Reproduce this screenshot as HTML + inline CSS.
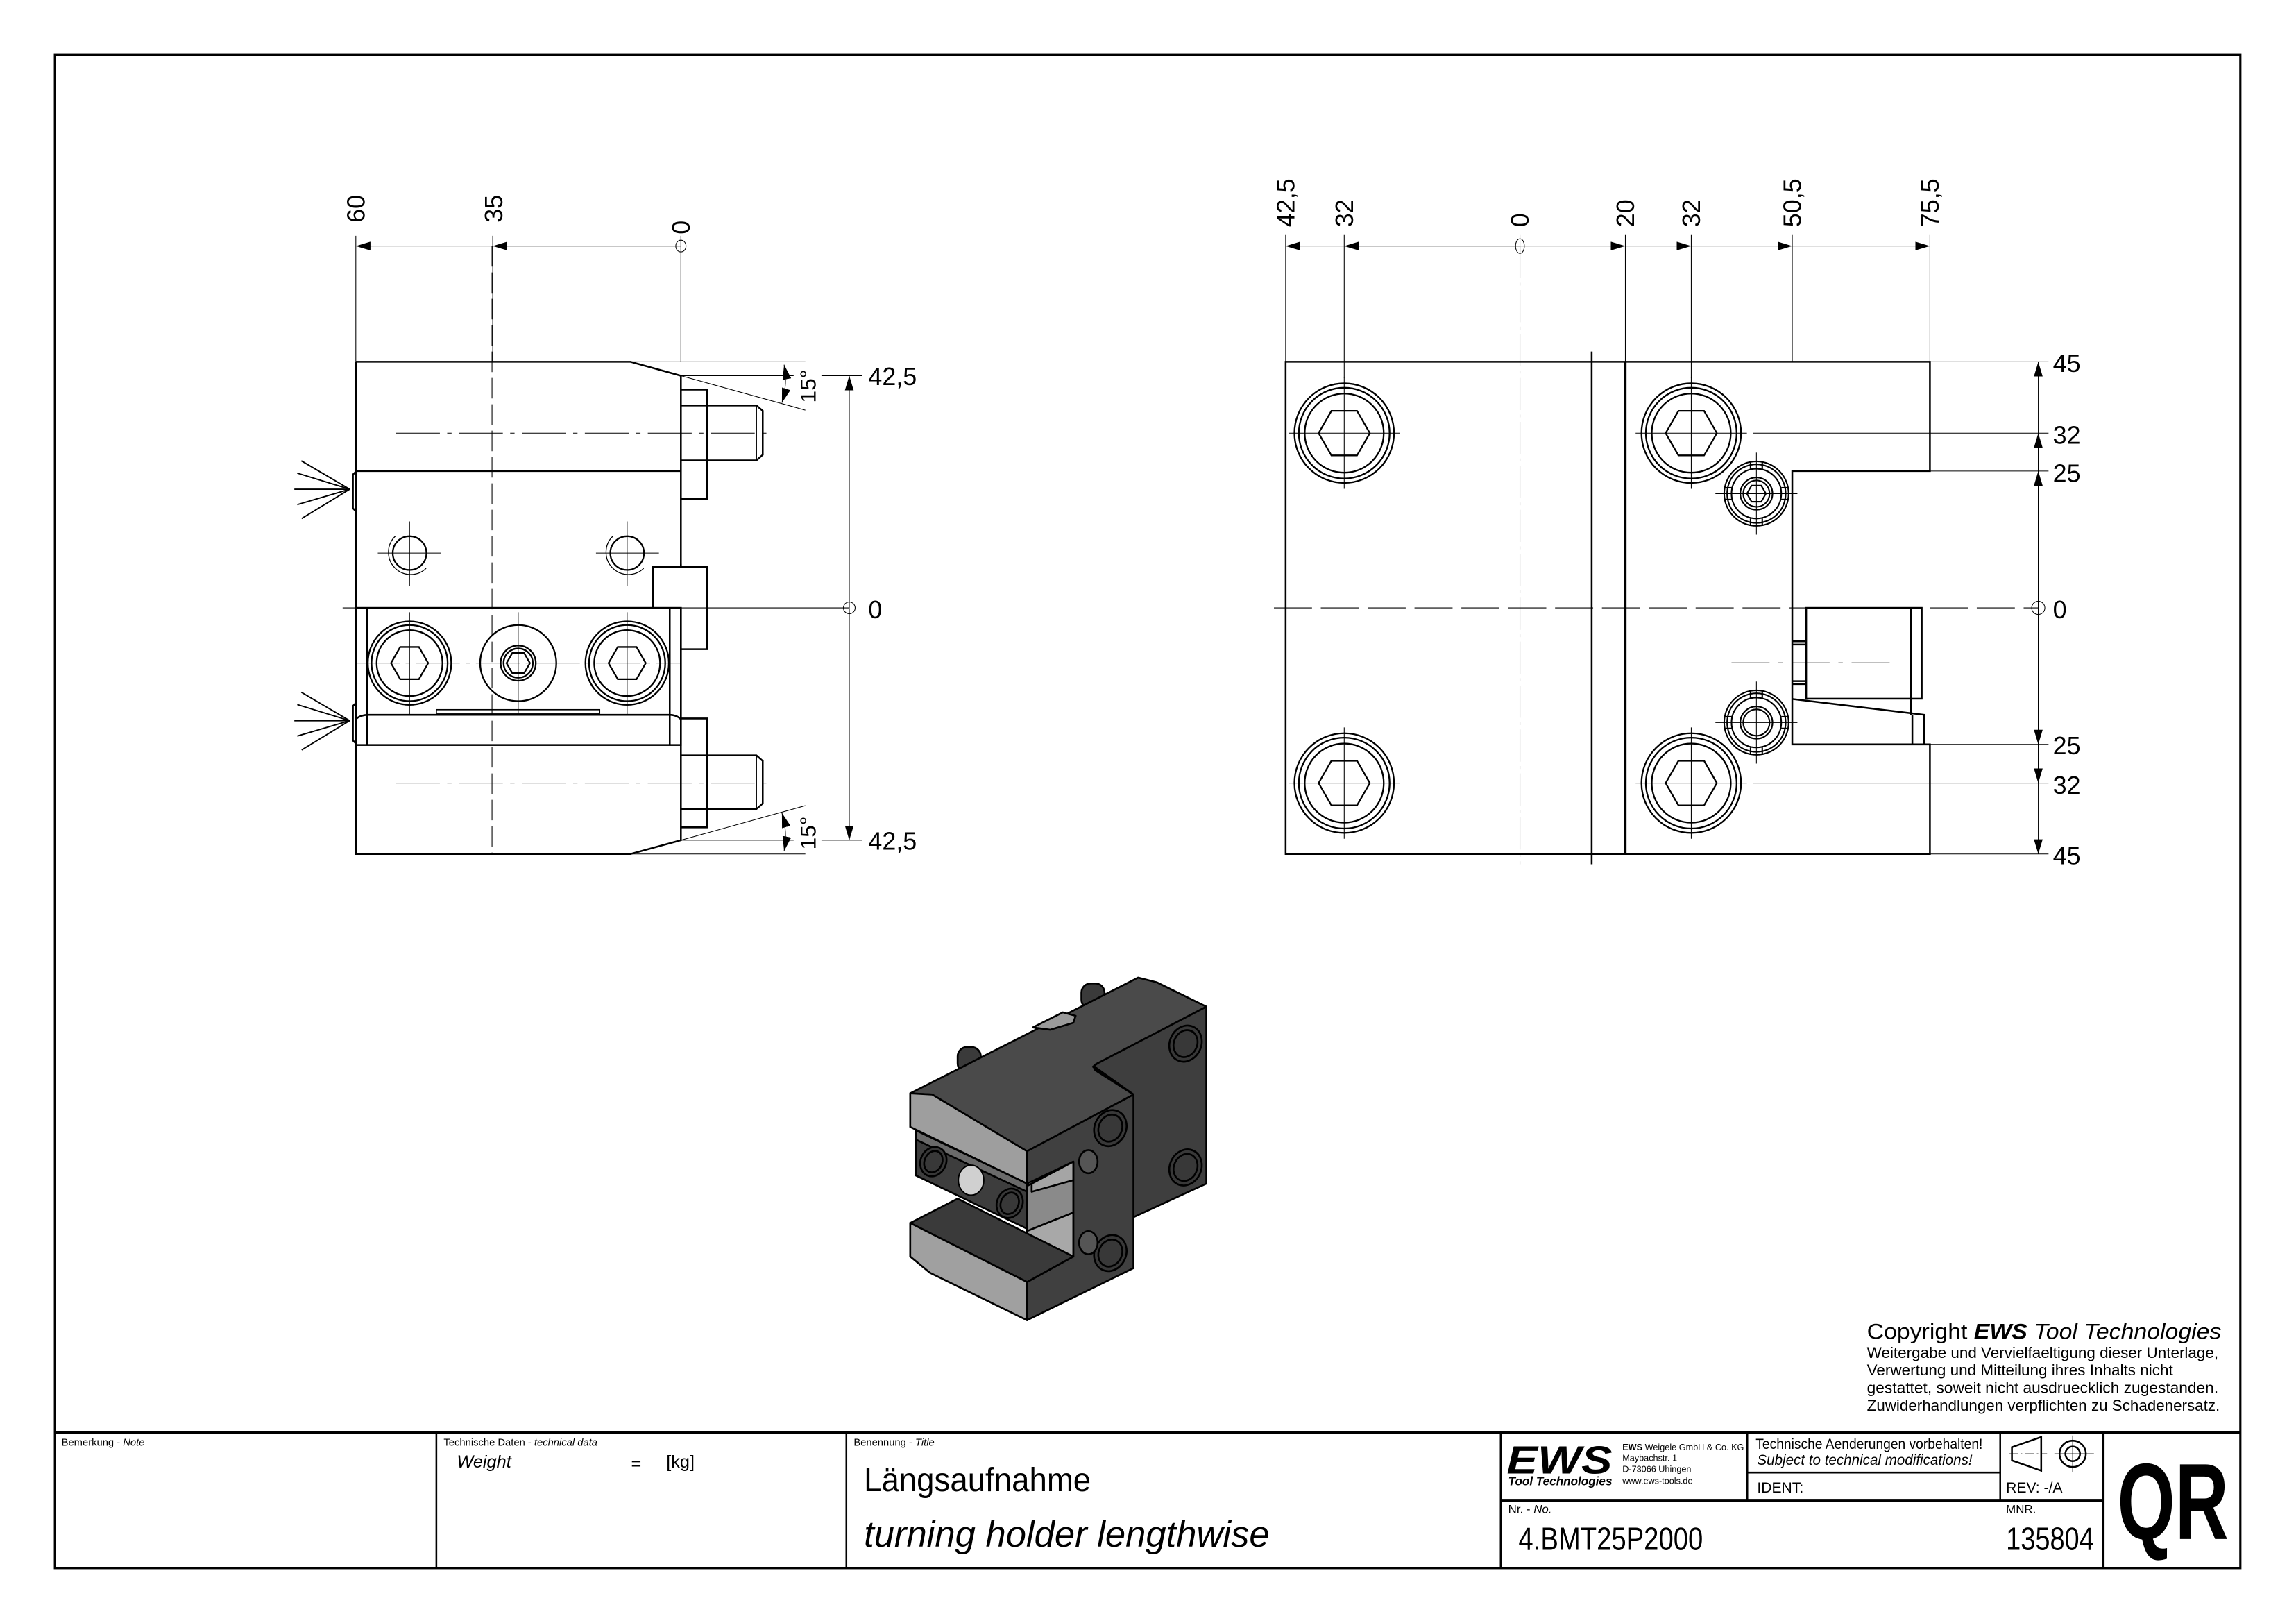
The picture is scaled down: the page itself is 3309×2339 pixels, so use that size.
<!DOCTYPE html>
<html><head><meta charset="utf-8">
<style>
html,body{margin:0;padding:0;background:#fff;}
svg{display:block;}
.n{font-family:"Liberation Sans Narrow","Liberation Sans",sans-serif;}
.s{font-family:"Liberation Sans",sans-serif;}
</style></head>
<body>
<svg width="3309" height="2339" viewBox="0 0 1568 1108" preserveAspectRatio="none" xmlns="http://www.w3.org/2000/svg">
<defs>
<marker id="a" viewBox="0 0 10 6" refX="10" refY="3" markerWidth="10" markerHeight="6" markerUnits="userSpaceOnUse" orient="auto-start-reverse">
<path d="M0,0 L10,3 L0,6 z" fill="#000"/></marker>
<g id="bigscrew" fill="none" stroke="#000">
<circle r="34" stroke-width="1.1"/><circle r="31" stroke-width="1.1"/><circle r="27" stroke-width="1.1"/>
<polygon points="-17.5,0 -8.75,-15.2 8.75,-15.2 17.5,0 8.75,15.2 -8.75,15.2" stroke-width="1.1"/>
<line x1="-38" y1="0" x2="38" y2="0" stroke-width="0.5"/><line x1="0" y1="-38" x2="0" y2="38" stroke-width="0.5"/>
</g>
<g id="smallscrew" fill="none" stroke="#000" stroke-width="1">
<circle r="22"/><circle r="20"/><circle r="17"/><circle r="11"/><circle r="9"/>
<line x1="-4" y1="-22" x2="-4" y2="-17"/><line x1="4" y1="-22" x2="4" y2="-17"/>
<line x1="-4" y1="22" x2="-4" y2="17"/><line x1="4" y1="22" x2="4" y2="17"/>
<line x1="-22" y1="-4" x2="-17" y2="-4"/><line x1="-22" y1="4" x2="-17" y2="4"/>
<line x1="22" y1="-4" x2="17" y2="-4"/><line x1="22" y1="4" x2="17" y2="4"/>
<line x1="-28" y1="0" x2="28" y2="0" stroke-width="0.5"/><line x1="0" y1="-28" x2="0" y2="28" stroke-width="0.5"/>
</g>
</defs>

<!-- frame -->
<rect x="37.5" y="37.5" width="1492.5" height="1033" fill="none" stroke="#000" stroke-width="1.5"/>
<line x1="37.5" y1="978" x2="1530" y2="978" stroke="#000" stroke-width="1.5"/>

<!-- ================= LEFT VIEW ================= -->
<g fill="none" stroke="#000" stroke-width="1.2">
<path d="M243,247 L430.6,247 L465,256.5 L465,387 L446,387 L446,415"/>
<path d="M243,247 L243,583 L430.6,583 L465,573.6 L465,508.6"/>
<line x1="243" y1="321.6" x2="465" y2="321.6"/>
<path d="M465,266 L482.8,266 L482.8,340.5 L465,340.5"/>
<path d="M465,276.8 L516.6,276.8 L520.9,280.5 L520.9,310.5 L516.6,314.3 L465,314.3"/>
<line x1="516.6" y1="276.8" x2="516.6" y2="314.3" stroke-width="0.7"/>
<path d="M448,387 L465,387 L465,385"/>
<path d="M465,387 L482.8,387 L482.8,443.2 L465,443.2"/>
<path d="M465,490.5 L482.8,490.5 L482.8,564.8 L465,564.8"/>
<path d="M465,515.7 L516.6,515.7 L520.9,519.5 L520.9,548.5 L516.6,552.3 L465,552.3"/>
<line x1="516.6" y1="515.7" x2="516.6" y2="552.3" stroke-width="0.7"/>
<rect x="243" y="415" width="222" height="93.6"/>
<line x1="250.6" y1="415" x2="250.6" y2="508.6"/>
<line x1="457.4" y1="415" x2="457.4" y2="508.6"/>
<path d="M243,491 Q246,488 252,488 L457,488 Q462,488 465,491"/>
<rect x="298" y="484.5" width="111.5" height="2.5" stroke-width="0.8"/>
<line x1="465" y1="415" x2="465" y2="508.6"/>
<path d="M243,322 L241,324 L241,347 L243,349"/>
<path d="M243,480 L241,482 L241,505.5 L243,507.5"/>
</g>
<g stroke="#000" stroke-width="0.9">
<line x1="238.8" y1="334" x2="205.8" y2="314.6"/><line x1="238.8" y1="334" x2="203" y2="323"/><line x1="238.8" y1="334" x2="201" y2="334"/><line x1="238.8" y1="334" x2="203" y2="344.5"/><line x1="238.8" y1="334" x2="206" y2="354"/>
<line x1="238.8" y1="492" x2="205.8" y2="472.6"/><line x1="238.8" y1="492" x2="203" y2="481"/><line x1="238.8" y1="492" x2="201" y2="492"/><line x1="238.8" y1="492" x2="203" y2="502.5"/><line x1="238.8" y1="492" x2="206" y2="512"/>
</g>
<g fill="none" stroke="#000" stroke-width="1.1">
<circle cx="279.7" cy="377.6" r="11.5"/><path d="M270,366 A13,13 0 1 0 291,388" stroke-width="0.6"/>
<circle cx="428.3" cy="377.6" r="11.5"/><path d="M418.6,366 A13,13 0 1 0 439.6,388" stroke-width="0.6"/>
<circle cx="279.7" cy="452.7" r="28.5"/><circle cx="279.7" cy="452.7" r="26"/><circle cx="279.7" cy="452.7" r="22.5"/>
<circle cx="428.3" cy="452.7" r="28.5"/><circle cx="428.3" cy="452.7" r="26"/><circle cx="428.3" cy="452.7" r="22.5"/>
<circle cx="353.9" cy="452.7" r="26"/><circle cx="353.9" cy="452.7" r="12"/><circle cx="353.9" cy="452.7" r="10"/>
<polygon points="267,452.7 273.3,441.7 286.1,441.7 292.4,452.7 286.1,463.7 273.3,463.7"/>
<polygon points="415.6,452.7 421.9,441.7 434.7,441.7 441,452.7 434.7,463.7 421.9,463.7"/>
<polygon points="345.9,452.7 349.9,445.8 357.9,445.8 361.9,452.7 357.9,459.6 349.9,459.6"/>
</g>
<g stroke="#000" stroke-width="0.5" fill="none">
<line x1="258" y1="377.6" x2="301" y2="377.6"/><line x1="279.7" y1="356" x2="279.7" y2="400"/>
<line x1="407" y1="377.6" x2="450" y2="377.6"/><line x1="428.3" y1="356" x2="428.3" y2="400"/>
<line x1="279.7" y1="418" x2="279.7" y2="488"/><line x1="353.9" y1="418" x2="353.9" y2="488"/><line x1="428.3" y1="418" x2="428.3" y2="488"/>
<line x1="243" y1="452.7" x2="465" y2="452.7" stroke-dasharray="30,4,3,4"/>
<line x1="270.4" y1="295.7" x2="526.5" y2="295.7" stroke-dasharray="30,5,3,5"/>
<line x1="270.4" y1="534.6" x2="526.5" y2="534.6" stroke-dasharray="30,5,3,5"/>
<line x1="336" y1="168" x2="336" y2="583" stroke-dasharray="14,4"/>
<line x1="234" y1="415" x2="580" y2="415"/>
<line x1="243" y1="161" x2="243" y2="247"/>
<line x1="336.5" y1="161" x2="336.5" y2="247"/>
<line x1="465" y1="161" x2="465" y2="247"/>
<line x1="465" y1="168" x2="243" y2="168" marker-end="url(#a)"/>
<line x1="465" y1="168" x2="336.5" y2="168" marker-end="url(#a)"/>
<ellipse cx="465" cy="168" rx="3.5" ry="4"/>
<line x1="580" y1="415" x2="580" y2="256.5" marker-end="url(#a)"/>
<line x1="580" y1="415" x2="580" y2="573.6" marker-end="url(#a)"/>
<ellipse cx="580" cy="415" rx="4" ry="4"/>
<line x1="561" y1="256.5" x2="589" y2="256.5"/>
<line x1="561" y1="573.6" x2="589" y2="573.6"/>
<line x1="430.6" y1="247" x2="550" y2="247"/>
<line x1="465" y1="256.5" x2="542" y2="256.5"/>
<line x1="465" y1="256.5" x2="550" y2="280"/>
<path d="M535.5,249 Q538,262 534,275" marker-start="url(#a)" marker-end="url(#a)"/>
<line x1="430.6" y1="583" x2="550" y2="583"/>
<line x1="465" y1="573.6" x2="542" y2="573.6"/>
<line x1="465" y1="573.6" x2="550" y2="550"/>
<path d="M535.5,581 Q538,568 534,555" marker-start="url(#a)" marker-end="url(#a)"/>
</g>
<g class="n" font-size="17" fill="#000">
<text transform="translate(249,152) rotate(-90)">60</text>
<text transform="translate(343,152) rotate(-90)">35</text>
<text transform="translate(471,160) rotate(-90)">0</text>
<text x="593" y="263">42,5</text>
<text x="593" y="422">0</text>
<text x="593" y="580">42,5</text>
<text transform="translate(557,275) rotate(-90)" font-size="15">15°</text>
<text transform="translate(557,580) rotate(-90)" font-size="15">15°</text>
</g>

<!-- ================= RIGHT VIEW ================= -->
<g fill="none" stroke="#000" stroke-width="1.2">
<path d="M878,247 L1318,247 L1318,321.6 L1224,321.6 L1224,508.2 L1318,508.2 L1318,583 L878,583 Z"/>
<line x1="1087" y1="240" x2="1087" y2="590"/>
<line x1="1110" y1="247" x2="1110" y2="583" stroke-width="1.6"/>
<rect x="1233.5" y="415" width="78.9" height="62"/>
<line x1="1305" y1="415" x2="1305" y2="488"/>
<path d="M1224,477.2 L1314,488 L1314,508.2"/>
<line x1="1306" y1="488" x2="1306" y2="508.2"/>
<line x1="1224" y1="437.8" x2="1233.5" y2="437.8"/><line x1="1224" y1="440" x2="1233.5" y2="440"/>
<line x1="1224" y1="465" x2="1233.5" y2="465"/><line x1="1224" y1="467" x2="1233.5" y2="467"/>
</g>
<use href="#bigscrew" x="918" y="295.7"/>
<use href="#bigscrew" x="918" y="534.6"/>
<use href="#bigscrew" x="1155" y="295.7"/>
<use href="#bigscrew" x="1155" y="534.6"/>
<use href="#smallscrew" x="1199.5" y="337"/>
<use href="#smallscrew" x="1199.5" y="493.3"/>
<g fill="none" stroke="#000" stroke-width="1">
<polygon points="1193,337 1196.2,331.5 1202.8,331.5 1206,337 1202.8,342.5 1196.2,342.5"/>
</g>
<g stroke="#000" stroke-width="0.5" fill="none">
<line x1="870" y1="415" x2="1392" y2="415" stroke-dasharray="26,6"/>
<line x1="1038" y1="168" x2="1038" y2="590" stroke-dasharray="22,3,2,3"/>
<line x1="1182.5" y1="452.5" x2="1292" y2="452.5" stroke-dasharray="26,6,3,6"/>
<line x1="878" y1="160" x2="878" y2="247"/>
<line x1="918" y1="160" x2="918" y2="258"/>
<line x1="1038" y1="160" x2="1038" y2="172"/>
<line x1="1110" y1="160" x2="1110" y2="247"/>
<line x1="1155" y1="160" x2="1155" y2="258"/>
<line x1="1224" y1="160" x2="1224" y2="247"/>
<line x1="1318" y1="160" x2="1318" y2="247"/>
<line x1="1038" y1="168" x2="878" y2="168" marker-end="url(#a)"/>
<line x1="1038" y1="168" x2="918" y2="168" marker-end="url(#a)"/>
<line x1="1038" y1="168" x2="1110" y2="168" marker-end="url(#a)"/>
<line x1="1110" y1="168" x2="1155" y2="168" marker-end="url(#a)"/>
<line x1="1155" y1="168" x2="1224" y2="168" marker-end="url(#a)"/>
<line x1="1224" y1="168" x2="1318" y2="168" marker-end="url(#a)"/>
<ellipse cx="1038" cy="168" rx="3" ry="5"/>
<line x1="1392" y1="415" x2="1392" y2="247" marker-end="url(#a)"/>
<line x1="1392" y1="415" x2="1392" y2="295.7" marker-end="url(#a)"/>
<line x1="1392" y1="415" x2="1392" y2="321.6" marker-end="url(#a)"/>
<line x1="1392" y1="415" x2="1392" y2="583" marker-end="url(#a)"/>
<line x1="1392" y1="415" x2="1392" y2="534.6" marker-end="url(#a)"/>
<line x1="1392" y1="415" x2="1392" y2="508.2" marker-end="url(#a)"/>
<ellipse cx="1392" cy="415" rx="4.5" ry="4.5"/>
<line x1="1318" y1="247" x2="1399" y2="247"/>
<line x1="1197" y1="295.7" x2="1399" y2="295.7"/>
<line x1="1318" y1="321.6" x2="1399" y2="321.6"/>
<line x1="1318" y1="508.2" x2="1399" y2="508.2"/>
<line x1="1197" y1="534.6" x2="1399" y2="534.6"/>
<line x1="1318" y1="583" x2="1399" y2="583"/>
</g>
<g class="n" font-size="17" fill="#000">
<text transform="translate(884,155) rotate(-90)">42,5</text>
<text transform="translate(924,155) rotate(-90)">32</text>
<text transform="translate(1044,155) rotate(-90)">0</text>
<text transform="translate(1116,155) rotate(-90)">20</text>
<text transform="translate(1161,155) rotate(-90)">32</text>
<text transform="translate(1230,155) rotate(-90)">50,5</text>
<text transform="translate(1324,155) rotate(-90)">75,5</text>
<text x="1402" y="254">45</text>
<text x="1402" y="303">32</text>
<text x="1402" y="329">25</text>
<text x="1402" y="422">0</text>
<text x="1402" y="515">25</text>
<text x="1402" y="542">32</text>
<text x="1402" y="590">45</text>
</g>

<!-- ================= 3D VIEW ================= -->
<g transform="translate(606.6,654) scale(0.158)" stroke="#000" stroke-width="8" stroke-linejoin="round">
<rect x="835" y="110" width="100" height="110" rx="40" fill="#3a3a3a"/>
<rect x="300" y="385" width="100" height="110" rx="40" fill="#3a3a3a"/>
<!-- right plate -->
<polygon points="885,465 1375,210 1375,975 1060,1120 1060,590" fill="#3e3e3e"/>
<!-- top face -->
<polygon points="95,585 1080,85 1160,105 1375,210 905,455 885,470 1060,590 600,835 190,590" fill="#4a4a4a"/>
<path d="M905,455 Q880,465 895,485 L1060,590" fill="none"/>
<polygon points="625,300 755,235 810,250 800,280 700,310" fill="#9a9a9a"/>
<polygon points="95,585 190,590 600,835 600,975 95,730" fill="#9e9e9e"/>
<!-- front column -->
<polygon points="600,835 1060,590 1060,1340 600,1565 600,1400 800,1290 800,880 600,975" fill="#404040"/>
<!-- clamp -->
<polygon points="120,745 600,975 600,1170 120,940" fill="#3d3d3d"/>
<polygon points="120,745 600,975 600,1010 120,785" fill="#6a6a6a"/>
<!-- insert -->
<polygon points="600,985 800,880 800,1100 600,1180" fill="#8a8a8a"/>
<polygon points="620,975 800,880 800,960 620,1010" fill="#a5a5a5"/>
<polygon points="600,1180 800,1100 800,1290 600,1400" fill="#a8a8a8"/>
<polygon points="95,1145 300,1040 800,1290 600,1400" fill="#3a3a3a"/>
<polygon points="95,1145 600,1400 600,1565 180,1360 95,1290" fill="#a0a0a0"/>
<g fill="#383838">
<ellipse cx="1285" cy="370" rx="68" ry="80" transform="rotate(25 1285 370)"/>
<ellipse cx="1285" cy="370" rx="50" ry="60" transform="rotate(25 1285 370)"/>
<ellipse cx="1285" cy="905" rx="68" ry="80" transform="rotate(25 1285 905)"/>
<ellipse cx="1285" cy="905" rx="50" ry="60" transform="rotate(25 1285 905)"/>
<ellipse cx="960" cy="735" rx="68" ry="80" transform="rotate(25 960 735)"/>
<ellipse cx="960" cy="735" rx="50" ry="60" transform="rotate(25 960 735)"/>
<ellipse cx="960" cy="1275" rx="68" ry="80" transform="rotate(25 960 1275)"/>
<ellipse cx="960" cy="1275" rx="50" ry="60" transform="rotate(25 960 1275)"/>
<ellipse cx="195" cy="880" rx="55" ry="65" transform="rotate(25 195 880)"/>
<ellipse cx="195" cy="880" rx="38" ry="48" transform="rotate(25 195 880)"/>
<ellipse cx="525" cy="1060" rx="55" ry="65" transform="rotate(25 525 1060)"/>
<ellipse cx="525" cy="1060" rx="38" ry="48" transform="rotate(25 525 1060)"/>
<ellipse cx="865" cy="880" rx="40" ry="50" fill="#555"/>
<ellipse cx="865" cy="1230" rx="40" ry="50" fill="#555"/>
</g>
<ellipse cx="358" cy="960" rx="55" ry="65" fill="#d0d0d0" stroke-width="6"/>
</g>

<!-- ================= COPYRIGHT ================= -->
<g class="s" fill="#000">
<text x="1275" y="914" font-size="15" textLength="242" lengthAdjust="spacingAndGlyphs">Copyright <tspan font-weight="bold" font-style="italic">EWS</tspan> <tspan font-style="italic">Tool Technologies</tspan></text>
<text x="1275" y="927" font-size="10.5" textLength="240" lengthAdjust="spacingAndGlyphs">Weitergabe und Vervielfaeltigung dieser Unterlage,</text>
<text x="1275" y="939" font-size="10.5" textLength="209" lengthAdjust="spacingAndGlyphs">Verwertung und Mitteilung ihres Inhalts nicht</text>
<text x="1275" y="951" font-size="10.5" textLength="240" lengthAdjust="spacingAndGlyphs">gestattet, soweit nicht ausdruecklich zugestanden.</text>
<text x="1275" y="963" font-size="10.5" textLength="241" lengthAdjust="spacingAndGlyphs">Zuwiderhandlungen verpflichten zu Schadenersatz.</text>
</g>

<!-- ================= TITLE BLOCK ================= -->
<g stroke="#000" stroke-width="1.2" fill="none">
<line x1="298" y1="978" x2="298" y2="1070"/>
<line x1="578" y1="978" x2="578" y2="1070"/>
<line x1="1025" y1="978" x2="1025" y2="1070" stroke-width="1.5"/>
<line x1="1436.5" y1="978" x2="1436.5" y2="1070" stroke-width="1.5"/>
<line x1="1025" y1="1024.5" x2="1436.5" y2="1024.5" stroke-width="1.5"/>
<line x1="1193.3" y1="978" x2="1193.3" y2="1024.5"/>
<line x1="1193.3" y1="1005.3" x2="1366" y2="1005.3"/>
<line x1="1366" y1="978" x2="1366" y2="1024.5"/>
<path d="M1374,988 L1394,981 L1394,1004 L1374,997 Z"/>
<line x1="1372" y1="992.5" x2="1398" y2="992.5" stroke-width="0.5" stroke-dasharray="6,2,1,2"/>
<circle cx="1415.5" cy="992.5" r="9"/><circle cx="1415.5" cy="992.5" r="5"/>
<line x1="1403" y1="992.5" x2="1430" y2="992.5" stroke-width="0.5"/>
<line x1="1415.5" y1="980" x2="1415.5" y2="1005" stroke-width="0.5"/>
</g>
<g class="n" fill="#000">
<text x="42" y="987" font-size="7">Bemerkung - <tspan font-style="italic">Note</tspan></text>
<text x="303" y="987" font-size="7">Technische Daten - <tspan font-style="italic">technical data</tspan></text>
<text x="583" y="987" font-size="7">Benennung - <tspan font-style="italic">Title</tspan></text>
<text x="312" y="1002" font-size="12" font-style="italic">Weight</text>
<text x="431" y="1003" font-size="12">=</text>
<text x="455" y="1002" font-size="12">[kg]</text>
<text x="590" y="1018" font-size="23" textLength="155" lengthAdjust="spacingAndGlyphs">Längsaufnahme</text>
<text x="590" y="1056" font-size="25" font-style="italic" textLength="277" lengthAdjust="spacingAndGlyphs">turning holder lengthwise</text>
<text x="1199" y="989" font-size="10" textLength="155" lengthAdjust="spacingAndGlyphs">Technische Aenderungen vorbehalten!</text>
<text x="1200" y="1000" font-size="10" font-style="italic" textLength="147" lengthAdjust="spacingAndGlyphs">Subject to technical modifications!</text>
<text x="1200" y="1019" font-size="10">IDENT:</text>
<text x="1370" y="1019" font-size="10">REV:  -/A</text>
<text x="1030" y="1033" font-size="8">Nr. - <tspan font-style="italic">No.</tspan></text>
<text x="1370" y="1033" font-size="8">MNR.</text>
<text x="1037" y="1058" font-size="22" textLength="126" lengthAdjust="spacingAndGlyphs">4.BMT25P2000</text>
<text x="1430" y="1058" font-size="22" text-anchor="end" textLength="60" lengthAdjust="spacingAndGlyphs">135804</text>
<text x="1446" y="1050.6" font-size="74" font-weight="bold" textLength="76" lengthAdjust="spacingAndGlyphs">QR</text>
</g>
<g class="s" fill="#000">
<text x="1029" y="1006" font-size="27" font-weight="bold" font-style="italic" textLength="72" lengthAdjust="spacingAndGlyphs">EWS</text>
<text x="1030" y="1014" font-size="8.5" font-weight="bold" font-style="italic" textLength="71" lengthAdjust="spacingAndGlyphs">Tool Technologies</text>
<text x="1108" y="990" font-size="6" textLength="83" lengthAdjust="spacingAndGlyphs"><tspan font-weight="bold">EWS</tspan> Weigele GmbH &amp; Co. KG</text>
<text x="1108" y="997.5" font-size="6">Maybachstr. 1</text>
<text x="1108" y="1005" font-size="6">D-73066 Uhingen</text>
<text x="1108" y="1013" font-size="6">www.ews-tools.de</text>
</g>
</svg>
</body></html>
